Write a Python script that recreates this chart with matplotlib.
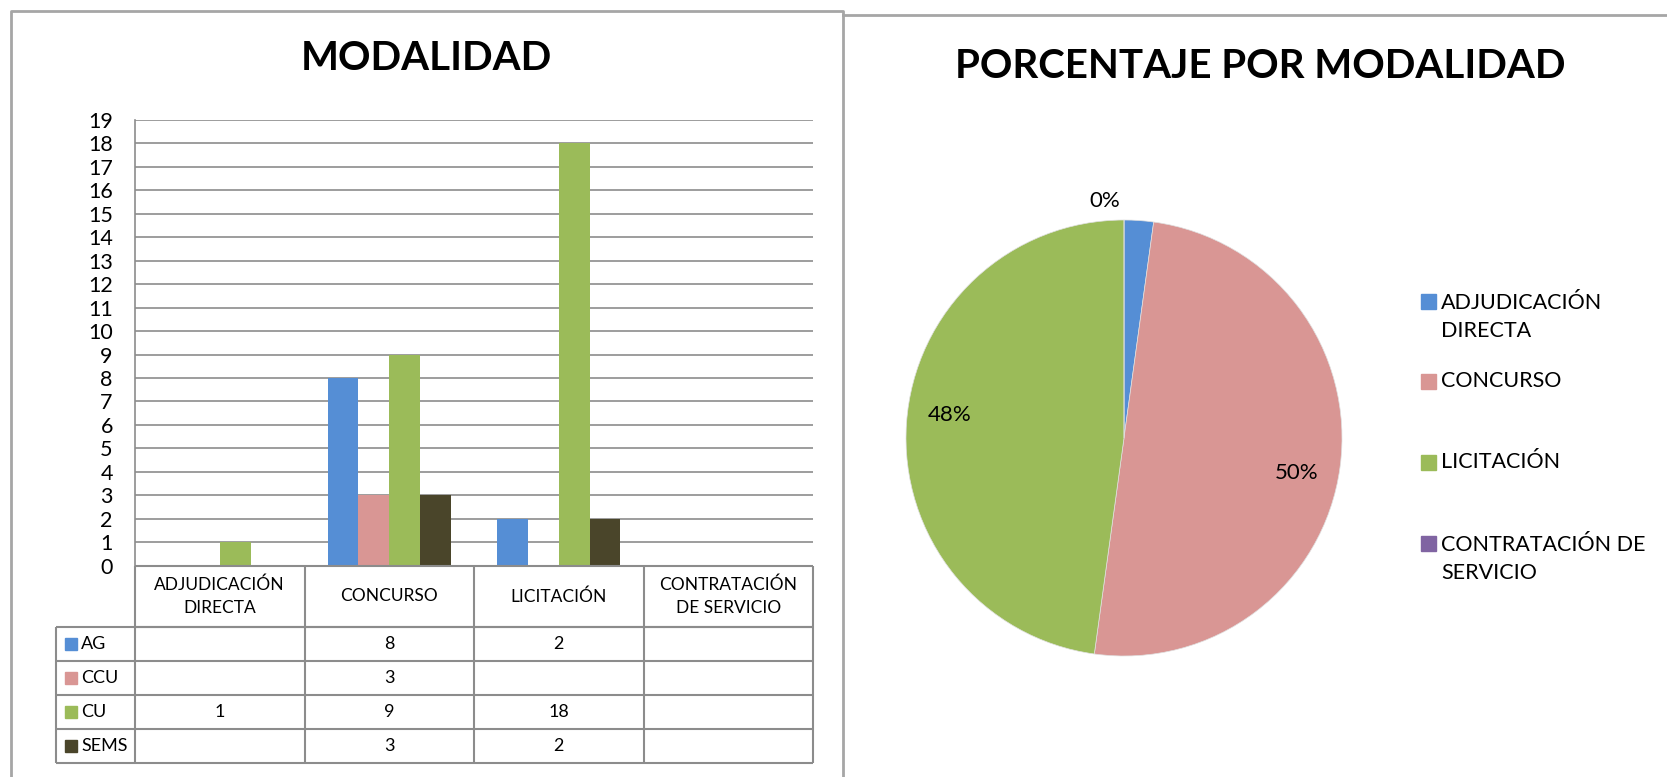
import numpy as np
import matplotlib.pyplot as plt
from matplotlib.lines import Line2D
from matplotlib.patches import Rectangle

plt.rcParams['font.family'] = ['Lato', 'DejaVu Sans']

# ---- data ----
categories = ["ADJUDICACIÓN\nDIRECTA", "CONCURSO", "LICITACIÓN", "CONTRATACIÓN\nDE SERVICIO"]
series_names = ["AG", "CCU", "CU", "SEMS"]
ag = [np.nan, 8, 2, np.nan]
ccu = [np.nan, 3, np.nan, np.nan]
cu = [1, 9, 18, np.nan]
sems = [np.nan, 3, 2, np.nan]
y_ticks = list(range(0, 20))

pie_labels = ["ADJUDICACIÓN\nDIRECTA", "CONCURSO", "LICITACIÓN", "CONTRATACIÓN DE\nSERVICIO"]
pie_values = [1, 23, 22, 0]

series_colors = ["#558ED5", "#D99694", "#9BBB59", "#4A452A"]
pie_colors = ["#558ED5", "#D99694", "#9BBB59", "#8064A2"]
GRID = "#8c8c8c"

W, H = 1667, 777
fig = plt.figure(figsize=(W / 100, H / 100), dpi=100)


def px_axes(left, top, right, bottom):
    return fig.add_axes([left / W, 1 - bottom / H, (right - left) / W, (bottom - top) / H])


# ---- panel borders ----
fig.add_artist(Line2D([11 / W, 11 / W, 843 / W, 843 / W], [0, 1 - 11 / H, 1 - 11 / H, 0],
                      color="#a6a6a6", lw=2, transform=fig.transFigure))
fig.add_artist(Line2D([843 / W, 1], [1 - 15 / H, 1 - 15 / H],
                      color="#a6a6a6", lw=2, transform=fig.transFigure))

# ---- bar chart ----
plot_l, plot_r, plot_t, plot_b = 135, 813, 120, 565.6
ax = px_axes(plot_l, plot_t, plot_r, plot_b)
data = [ag, ccu, cu, sems]
n = len(categories)
x = np.arange(n) + 0.5
bw = 1 / (len(series_names) + 1.5)
for j, (vals, c) in enumerate(zip(data, series_colors)):
    ax.bar(x + (j - 1.5) * bw, vals, width=bw, color=c, zorder=3)
ax.set_xlim(0, n)
ax.set_ylim(0, 19)
ax.set_yticks(y_ticks)
ax.set_yticklabels([str(v) for v in y_ticks], fontsize=15.5)
ax.tick_params(axis="y", length=0, pad=16)
ax.set_xticks([])
ax.grid(axis="y", color=GRID, lw=1.2, zorder=0)
for s in ["top", "right", "bottom"]:
    ax.spines[s].set_visible(False)
ax.spines["left"].set_color(GRID)
ax.spines["left"].set_linewidth(1.2)
fig.text(426 / W, 1 - 58 / H, "MODALIDAD", fontsize=29, fontweight="bold",
         ha="center", va="center")

# ---- data table under bars ----
tab_l, tab_b = 56, 763
tx = px_axes(tab_l, plot_b, plot_r, tab_b)
cat_w = (plot_r - plot_l) / n
lab_w = (plot_l - tab_l) / cat_w
head_h = 61.4
row_h = (tab_b - plot_b - head_h) / len(series_names)
total_h = head_h + row_h * len(series_names)
tx.set_xlim(-lab_w, n)
tx.set_ylim(total_h, 0)
tx.axis("off")
lkw = dict(color=GRID, lw=1.5, clip_on=False)
# header row
tx.hlines([0, head_h], 0, n, **lkw)
tx.vlines(np.arange(n + 1), 0, head_h, **lkw)
for i, cat in enumerate(categories):
    tx.text(i + 0.5, head_h / 2, cat, ha="center", va="center", fontsize=12.5,
            linespacing=1.5)
# series rows
ys = head_h + row_h * np.arange(len(series_names) + 1)
tx.hlines(ys, -lab_w, n, **lkw)
tx.vlines(np.r_[-lab_w, np.arange(n + 1)], head_h, total_h, **lkw)
for r, (name, vals, c) in enumerate(zip(series_names, data, series_colors)):
    yc = head_h + row_h * (r + 0.5)
    tx.plot(-lab_w + 14.5 / cat_w, yc, marker="s", ms=8.5, color=c, clip_on=False)
    tx.text(-lab_w + 25 / cat_w, yc, name, ha="left", va="center", fontsize=13)
    for i, v in enumerate(vals):
        if not np.isnan(v):
            tx.text(i + 0.5, yc, f"{v:g}", ha="center", va="center", fontsize=13)

# ---- pie chart ----
cx, cy, rad = 1124, 438, 218
half = rad * 1.2
pax = px_axes(cx - half, cy - half, cx + half, cy + half)
wedges, _ = pax.pie(pie_values, colors=pie_colors, startangle=90, counterclock=False,
                    radius=1, wedgeprops=dict(linewidth=0.5, edgecolor="#e0e0e0"))
pax.set_xlim(-1.2, 1.2)
pax.set_ylim(-1.2, 1.2)
total = sum(pie_values)
for w, v in zip(wedges, pie_values):
    pct = 100 * v / total
    th = np.deg2rad((w.theta1 + w.theta2) / 2)
    if v == 0:
        pax.text(1.04 * np.cos(th) - 0.02, 1.04 * np.sin(th), f"{pct:.0f}%",
                 ha="right", va="bottom", fontsize=16)
    elif pct >= 5:
        pax.text(0.8 * np.cos(th), 0.8 * np.sin(th) - 0.05 * np.sign(np.cos(th)),
                 f"{pct:.0f}%", ha="center", va="center", fontsize=16)

fig.text(1260 / W, 1 - 66 / H, "PORCENTAJE POR MODALIDAD", fontsize=29,
         fontweight="bold", ha="center", va="center")

# ---- pie legend ----
leg_y = [317, 381, 462, 559]
for lab, c, yy in zip(pie_labels, pie_colors, leg_y):
    first_line = yy - (15.5 if "\n" in lab else 0)
    fig.patches.append(Rectangle((1421 / W, 1 - (first_line + 7.5) / H), 15 / W, 15 / H,
                                 color=c, transform=fig.transFigure, figure=fig))
    fig.text(1441 / W, 1 - yy / H, lab, ha="left", va="center", fontsize=15.5,
             linespacing=1.45)

fig.savefig("out.png", dpi=100)
